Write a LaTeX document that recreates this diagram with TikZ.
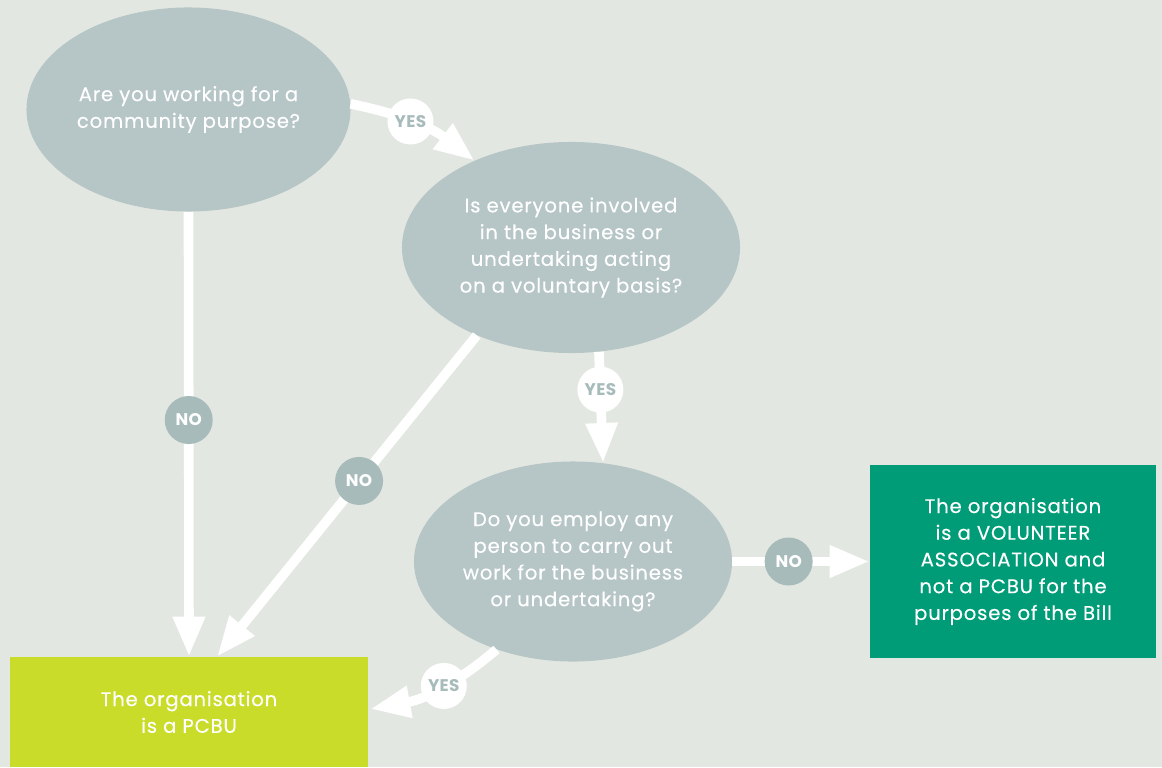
\documentclass[tikz,border=0pt]{standalone}
\usepackage{fontspec}
\setmainfont{Poppins}[LetterSpace=4, FakeBold=0.3]
\newfontfamily\labelfont{Poppins}[LetterSpace=2]
\usepackage{tikz}
\usetikzlibrary{arrows.meta, positioning, shapes, calc}
\definecolor{PageGrey}{HTML}{E3E7E1}
\definecolor{QuestionGrey}{HTML}{B6C5C6}
\definecolor{LabelGrey}{HTML}{A8BBBB}
\definecolor{VolGreen}{HTML}{009C77}
\definecolor{PcbuLime}{HTML}{CADC2A}

\begin{document}
\begin{tikzpicture}[x=0.025cm, y=-0.025cm,
        question/.style={ellipse, fill=QuestionGrey, text=white, inner sep=0pt, align=center, font=\fontsize{14}{19}\selectfont},
        result/.style={rectangle, inner sep=0pt, text=white, align=center, font=\fontsize{14}{19}\selectfont},
        yeslabel/.style={circle, fill=white, text=LabelGrey, minimum size=1.15cm, inner sep=0pt, font=\labelfont\bfseries\fontsize{12}{12}\selectfont},
        nolabel/.style={circle, fill=LabelGrey, text=white, minimum size=1.2cm, inner sep=0pt, font=\labelfont\bfseries\fontsize{12}{12}\selectfont},
        arrow/.style={-{Triangle[length=1cm, width=0.75cm]}, line width=0.24cm, draw=white, fill=white}]

        % Background
        \fill[PageGrey] (0,0) rectangle (1162,767);

        % Questions
        \node[question, minimum width=8.1cm, minimum height=5.1cm] (q1) at (188.5,109.5) {Are you working for a\\community purpose?};
        \node[question, minimum width=8.45cm, minimum height=5.275cm] (q2) at (571,247.5) {Is everyone involved\\in the business or\\undertaking acting\\on a voluntary basis?};
        \node[question, minimum width=7.95cm, minimum height=5cm] (q3) at (573,561.5) {Do you employ any\\person to carry out\\work for the business\\or undertaking?};

        % Results
        \node[result, fill=VolGreen, minimum width=7.15cm, minimum height=4.825cm] (vol) at (1013,561.5) {The organisation\\is a VOLUNTEER\\ASSOCIATION and\\not a PCBU for the\\purposes of the Bill};
        \node[result, fill=PcbuLime, minimum width=8.95cm, minimum height=2.75cm] (pcbu) at (189,712) {The organisation\\is a PCBU};

        % Arrows
        \draw[arrow] (q1.2) to[bend left=13] node[yeslabel, pos=0.45] {YES} (q2.138);
        \draw[arrow] (q1.south) -- node[nolabel, pos=0.468] {NO} (pcbu.north);
        \draw[arrow] (q2.223) -- node[nolabel, pos=0.453] {NO} ($(pcbu.north)+(28,0)$);
        \draw[arrow] (q2.285) -- node[yeslabel, pos=0.34] {YES} (q3.73);
        \draw[arrow] (q3.east) -- node[nolabel, pos=0.41] {NO} (vol.west);
        \draw[arrow] (q3.229) to[bend left=15] node[yeslabel, pos=0.45] {YES} ($(pcbu.east)+(2,-3)$);

    \end{tikzpicture}
\end{document}
